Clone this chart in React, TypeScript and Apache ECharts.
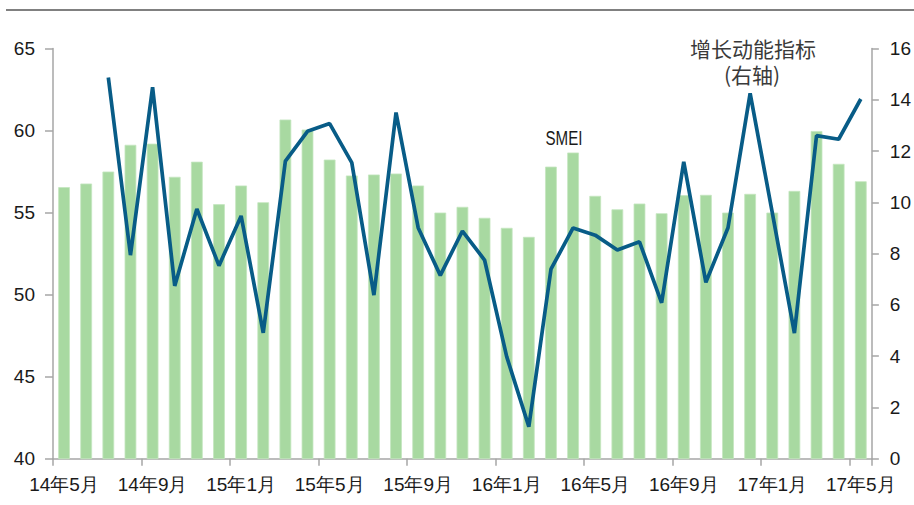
import React, { useEffect, useRef } from "react";
import * as echarts from "echarts";

const categories = [
  "14年5月", "14年6月", "14年7月", "14年8月", "14年9月", "14年10月", "14年11月", "14年12月",
  "15年1月", "15年2月", "15年3月", "15年4月", "15年5月", "15年6月", "15年7月", "15年8月",
  "15年9月", "15年10月", "15年11月", "15年12月", "16年1月", "16年2月", "16年3月", "16年4月",
  "16年5月", "16年6月", "16年7月", "16年8月", "16年9月", "16年10月", "16年11月", "16年12月",
  "17年1月", "17年2月", "17年3月", "17年4月", "17年5月",
];

const smei = [
  56.55, 56.77, 57.5, 59.13, 59.2, 57.18, 58.1, 55.51, 56.65, 55.63, 60.67, 60.06,
  58.23, 57.26, 57.32, 57.38, 56.65, 55.0, 55.35, 54.68, 54.07, 53.52, 57.8, 58.66,
  56.02, 55.2, 55.55, 54.96, 56.06, 56.08, 55.0, 56.14, 55.0, 56.32, 59.97, 57.97, 56.91,
];

const momentum: (number | null)[] = [
  null, null, 14.87, 7.94, 14.49, 6.74, 9.74, 7.53, 9.47, 4.91, 11.61, 12.77,
  13.07, 11.55, 6.38, 13.5, 9.01, 7.15, 8.88, 7.75, 3.98, 1.25, 7.39, 9.0,
  8.72, 8.14, 8.46, 6.08, 11.58, 6.88, 9.01, 14.25, 9.6, 4.9, 12.6, 12.46, 14.03,
];

const seriesNames = ["SMEI", "增长动能指标"];
const annotationLines = ["增长动能指标", "(右轴)"];

export default function App() {
  const ref = useRef<HTMLDivElement>(null);
  useEffect(() => {
    if (!ref.current) return;
    const chart = echarts.init(ref.current, undefined, { renderer: "svg" });
    const font = "'Liberation Sans', Arial, sans-serif";
    const cjk = "'Noto Sans CJK SC', sans-serif";
    const axisLine = { show: true, lineStyle: { color: "#a6a6a6", width: 1.5 } };
    chart.setOption({
      animation: false,
      backgroundColor: "#ffffff",
      grid: { left: 53, right: 38, top: 48.5, bottom: 46.3, containLabel: false },
      xAxis: {
        type: "category",
        data: categories,
        boundaryGap: true,
        axisLine,
        axisTick: { show: true, interval: 3, length: 7, lineStyle: { color: "#a6a6a6", width: 1.5 } },
        axisLabel: {
          interval: 3,
          margin: 16,
          color: "#1a1a1a",
          fontSize: 19,
          fontFamily: font,
        },
        splitLine: { show: false },
      },
      yAxis: [
        {
          type: "value",
          min: 40,
          max: 65,
          interval: 5,
          axisLine,
          axisTick: { show: true, length: 8, lineStyle: { color: "#a6a6a6", width: 1.5 } },
          axisLabel: { margin: 18, color: "#1a1a1a", fontSize: 19, fontFamily: font },
          splitLine: { show: false },
        },
        {
          type: "value",
          min: 0,
          max: 16,
          interval: 2,
          position: "right",
          axisLine,
          axisTick: { show: true, length: 7, lineStyle: { color: "#a6a6a6", width: 1.5 } },
          axisLabel: { margin: 18, color: "#1a1a1a", fontSize: 19, fontFamily: font },
          splitLine: { show: false },
        },
      ],
      series: [
        {
          name: seriesNames[0],
          type: "bar",
          data: smei,
          yAxisIndex: 0,
          barWidth: "53%",
          itemStyle: { color: "#a8d9a1", borderColor: "#c4e6bf", borderWidth: 0.8 },
        },
        {
          name: seriesNames[1],
          type: "line",
          data: momentum,
          yAxisIndex: 1,
          symbol: "none",
          connectNulls: false,
          lineStyle: { color: "#085c87", width: 3.7 },
        },
      ],
      graphic: [
        {
          type: "line",
          shape: { x1: 6, y1: 10, x2: 914, y2: 10 },
          style: { stroke: "#808080", lineWidth: 2 },
        },
        {
          type: "text",
          x: 564,
          y: 138,
          scaleX: 0.72,
          style: {
            text: "SMEI",
            fontSize: 21,
            fontFamily: font,
            fill: "#1a1a1a",
            align: "center",
            verticalAlign: "middle",
          },
        },
        {
          type: "text",
          x: 753,
          y: 48,
          style: {
            text: annotationLines[0],
            fontSize: 21,
            lineHeight: 21,
            fontFamily: cjk,
            fill: "#3a3a3a",
            align: "center",
            verticalAlign: "middle",
          },
        },
        {
          type: "text",
          x: 752,
          y: 74,
          style: {
            text: annotationLines[1],
            fontSize: 21,
            lineHeight: 21,
            fontFamily: cjk,
            fill: "#3a3a3a",
            align: "center",
            verticalAlign: "middle",
          },
        },
      ],
    });
    return () => chart.dispose();
  }, []);
  return (
    <div
      ref={ref}
      style={{ position: "fixed", left: 0, top: 0, width: 914, height: 505, background: "#fff" }}
    />
  );
}
